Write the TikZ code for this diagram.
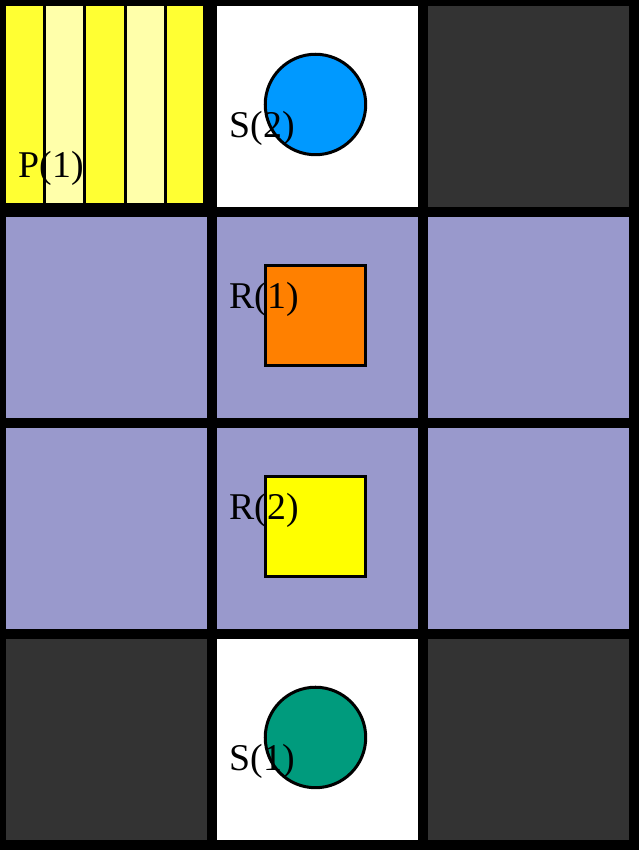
\documentclass[tikz,border=0pt]{standalone}
\usepackage{fontspec}
\setmainfont{Liberation Serif}
\usepackage{tikz}

\definecolor{lav}{RGB}{153,153,204}
\definecolor{dark}{RGB}{51,51,51}
\definecolor{stripeA}{RGB}{255,255,51}
\definecolor{stripeB}{RGB}{255,255,170}
\definecolor{skyblue}{RGB}{0,153,255}
\definecolor{piecegreen}{RGB}{0,155,125}
\definecolor{orng}{RGB}{255,128,0}
\definecolor{pieceyellow}{RGB}{255,255,0}

\begin{document}
\begin{tikzpicture}[y=-1cm,
  lbl/.style={anchor=base west, inner sep=0pt, font=\fontsize{10.7}{12}\selectfont},
  piece/.style={draw=black, line width=0.03cm}]
\useasboundingbox (0,0) rectangle (6.36,8.46);
\fill[black] (0,0) rectangle (6.36,8.46);
% top row
\fill[stripeA] (0.06,0.06) rectangle (0.43,2.02);
\fill[stripeB] (0.46,0.06) rectangle (0.83,2.02);
\fill[stripeA] (0.86,0.06) rectangle (1.23,2.02);
\fill[stripeB] (1.26,0.06) rectangle (1.63,2.02);
\fill[stripeA] (1.66,0.06) rectangle (2.02,2.02);
\fill[white] (2.16,0.06) rectangle (4.16,2.06);
\fill[dark] (4.26,0.06) rectangle (6.26,2.06);
% middle rows
\fill[lav] (0.06,2.16) rectangle (2.06,4.16);
\fill[lav] (2.16,2.16) rectangle (4.16,4.16);
\fill[lav] (4.26,2.16) rectangle (6.26,4.16);
\fill[lav] (0.06,4.26) rectangle (2.06,6.26);
\fill[lav] (2.16,4.26) rectangle (4.16,6.26);
\fill[lav] (4.26,4.26) rectangle (6.26,6.26);
% bottom row
\fill[dark] (0.06,6.36) rectangle (2.06,8.36);
\fill[white] (2.16,6.36) rectangle (4.16,8.36);
\fill[dark] (4.26,6.36) rectangle (6.26,8.36);
% pieces
\filldraw[piece, fill=skyblue] (3.14,1.04) circle(0.5);
\filldraw[piece, fill=orng] (2.64,2.64) rectangle (3.64,3.64);
\filldraw[piece, fill=pieceyellow] (2.64,4.74) rectangle (3.64,5.74);
\filldraw[piece, fill=piecegreen] (3.14,7.34) circle(0.5);
% labels
\node[lbl] (p1) at (0.18,1.77) {P(1)};
\node[lbl] (s2) at (2.28,1.37) {S(2)};
\node[lbl] (r1) at (2.28,3.07) {R(1)};
\node[lbl] (r2) at (2.28,5.17) {R(2)};
\node[lbl] (s1) at (2.28,7.67) {S(1)};
\end{tikzpicture}
\end{document}
